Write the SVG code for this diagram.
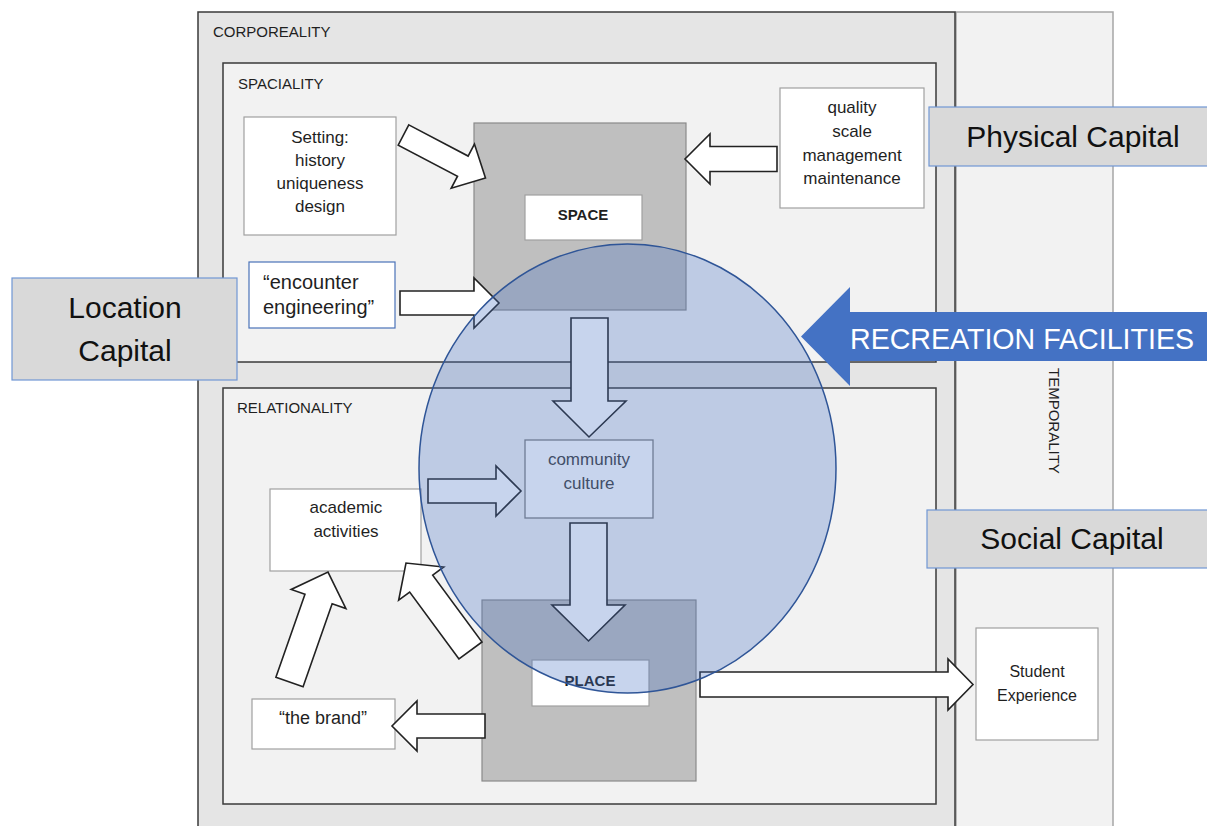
<svg xmlns="http://www.w3.org/2000/svg" width="1207" height="826" viewBox="0 0 1207 826">
<style>
text{font-family:"Liberation Sans",Arial,sans-serif;fill:#1f1f1f}
.frame{stroke:#3a3a3a;stroke-width:1.5}
.lbl{font-size:15px}
.box{fill:#fff;stroke:#a0a0a0;stroke-width:1.2}
.t17{font-size:17px;text-anchor:middle}
.gray{fill:#bfbfbf;stroke:#8a8a8a;stroke-width:1.2}
.bold{font-size:15px;font-weight:bold;text-anchor:middle}
.arr{fill:#fff;stroke:#222;stroke-width:1.6;stroke-linejoin:miter}
.cap{fill:#d9d9d9;stroke:#7097d4;stroke-width:1.2}
.capt{font-size:30px;text-anchor:middle;fill:#111}
</style>
<rect width="1207" height="826" fill="#fff"/>
<g id="temporality">
<rect x="956" y="12" width="157" height="830" fill="#f2f2f2" stroke="#a6a6a6" stroke-width="1.5"/>
</g>
<g id="corporeality">
<rect x="198" y="12" width="757" height="830" fill="#e5e5e5" class="frame"/>
<text x="213" y="37" class="lbl">CORPOREALITY</text>
</g>
<g id="spaciality">
<rect x="223" y="63" width="713" height="299" fill="#f2f2f2" class="frame"/>
<text x="238" y="89" class="lbl">SPACIALITY</text>
</g>
<g id="relationality">
<rect x="223" y="388" width="713" height="416" fill="#f2f2f2" class="frame"/>
<text x="237" y="413" class="lbl">RELATIONALITY</text>
</g>
<g id="setting">
<rect x="244" y="117" width="152" height="118" class="box"/>
<text class="t17"><tspan x="320" y="143">Setting:</tspan><tspan x="320" y="166">history</tspan><tspan x="320" y="189">uniqueness</tspan><tspan x="320" y="212">design</tspan></text>
</g>
<g id="quality">
<rect x="780" y="88" width="144" height="120" class="box"/>
<text class="t17"><tspan x="852" y="113">quality</tspan><tspan x="852" y="137">scale</tspan><tspan x="852" y="161">management</tspan><tspan x="852" y="184">maintenance</tspan></text>
</g>
<g id="encounter">
<rect x="249" y="262" width="146" height="66" fill="#fff" stroke="#4a72b8" stroke-width="1.2"/>
<text font-size="20" x="263" y="289">“encounter</text>
<text font-size="20" x="263" y="314">engineering”</text>
</g>
<g id="space">
<rect x="474" y="123" width="212" height="187" class="gray"/>
<rect x="525" y="195" width="117" height="45" class="box"/>
<text x="583" y="220" class="bold">SPACE</text>
</g>
<g id="community">
<rect x="525" y="440" width="128" height="78" fill="#fff" stroke="#808080" stroke-width="1.3"/>
<text class="t17" style="fill:#404040"><tspan x="589" y="465">community</tspan><tspan x="589" y="489">culture</tspan></text>
</g>
<g id="place">
<rect x="482" y="600" width="214" height="181" class="gray"/>
<rect x="532" y="660" width="117" height="46" class="box"/>
<text x="590" y="686" class="bold">PLACE</text>
</g>
<g id="academic">
<rect x="270" y="489" width="151" height="82" class="box"/>
<text class="t17"><tspan x="346" y="513">academic</tspan><tspan x="346" y="537">activities</tspan></text>
</g>
<g id="brand">
<rect x="252" y="699" width="143" height="50" class="box"/>
<text x="323" y="724" font-size="18" text-anchor="middle">“the brand”</text>
</g>
<g id="student">
<rect x="976" y="628" width="122" height="112" class="box"/>
<text font-size="16" text-anchor="middle"><tspan x="1037" y="677">Student</tspan><tspan x="1037" y="701">Experience</tspan></text>
</g>
<g id="connectors">
<polygon class="arr" transform="translate(403.5,135) rotate(27.7)" points="0,-11.4 67,-11.4 67,-25 92.6,0 67,25 67,11.4 0,11.4"/>
<polygon class="arr" points="777,146.5 710,146.5 710,134 685,159 710,184 710,171.5 777,171.5"/>
<polygon class="arr" points="400,291 474,291 474,278 499,303 474,328 474,315 400,315"/>
<polygon class="arr" points="571,318 608,318 608,401 626,401 589,437 553,401 571,401"/>
<polygon class="arr" points="428,479 496,479 496,466 521,491 496,516 496,503 428,503"/>
<polygon class="arr" points="570,523 607,523 607,605 625,605 588.5,641 552,605 570,605"/>
<polygon class="arr" transform="translate(470.5,650.5) rotate(-126.4)" points="0,-14.3 83.1,-14.3 83.1,-28 108.7,0 83.1,28 83.1,14.3 0,14.3"/>
<polygon class="arr" transform="translate(289.5,682) rotate(-70.7)" points="0,-14.4 87.9,-14.4 87.9,-29 116.5,0 87.9,29 87.9,14.4 0,14.4"/>
<polygon class="arr" points="485,714 417,714 417,701 392,726 417,751 417,738 485,738"/>
<polygon class="arr" points="700,672 948,672 948,659 973,684.5 948,710 948,697 700,697"/>
</g>
<g id="recreation-circle">
<ellipse cx="627.5" cy="468.5" rx="208.5" ry="224.5" fill="#4472c4" fill-opacity="0.3" stroke="#2f5597" stroke-width="1.5"/>
</g>
<g id="recreation-facilities">
<polygon points="801,336.5 850,287 850,312 1207,312 1207,361 850,361 850,386" fill="#4472c4"/>
<text x="850" y="349" font-size="29" textLength="344" lengthAdjust="spacingAndGlyphs" style="fill:#fff">RECREATION  FACILITIES</text>
</g>
<g id="physical-capital">
<rect x="929" y="107" width="285" height="59" class="cap"/>
<text x="1073" y="147" class="capt">Physical Capital</text>
</g>
<g id="location-capital">
<rect x="12" y="278" width="225" height="102" class="cap"/>
<text class="capt"><tspan x="125" y="318">Location</tspan><tspan x="125" y="361">Capital</tspan></text>
</g>
<g id="social-capital">
<rect x="927" y="510" width="290" height="58" class="cap"/>
<text x="1072" y="549" class="capt">Social Capital</text>
</g>
<g id="temporality-label">
<text x="1049" y="368" class="lbl" transform="rotate(90 1049 368)">TEMPORALITY</text>
</g>
</svg>
